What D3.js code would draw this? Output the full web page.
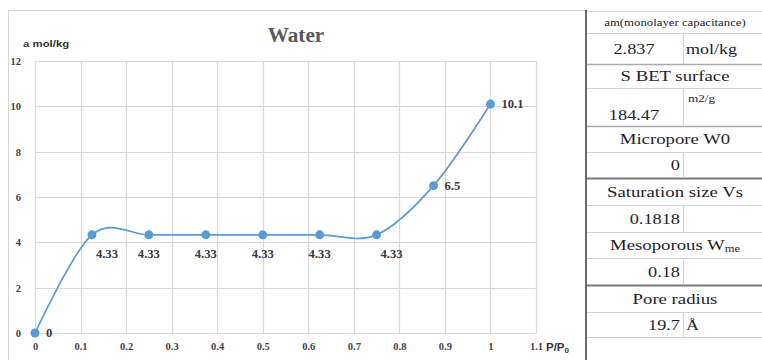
<!DOCTYPE html>
<html>
<head>
<meta charset="utf-8">
<script src="https://cdn.jsdelivr.net/npm/d3@7"></script>
<style>
  html, body { margin: 0; padding: 0; background: #fff; }
  svg { display: block; }
</style>
</head>
<body>
<svg id="chart" width="762" height="360"></svg>
<script>
// Water adsorption isotherm: relative pressure vs. uptake (mol/kg)
const pressure = [0, 0.125, 0.25, 0.375, 0.5, 0.625, 0.75, 0.875, 1];
const uptake   = [0, 4.33, 4.33, 4.33, 4.33, 4.33, 4.33, 6.5, 10.1];
const pointLabels = ["0", "4.33", "4.33", "4.33", "4.33", "4.33", "4.33", "6.5", "10.1"];
const xTicks = [0, 0.1, 0.2, 0.3, 0.4, 0.5, 0.6, 0.7, 0.8, 0.9, 1, 1.1];
const yTicks = [0, 2, 4, 6, 8, 10, 12];

// Side table of derived parameters
const tableLabels = ["am(monolayer capacitance)", "S BET surface", "Micropore W0",
                     "Saturation size Vs", "Mesoporous W", "Pore radius"];
const tableValues = ["2.837", "184.47", "0", "0.1818", "0.18", "19.7", ""];
const tableUnits  = ["mol/kg", "m2/g", "", "", "", "Å", ""];

// ---- layout ----
const svg = d3.select("#chart");
const plot = { left: 35, right: 536, top: 61, bottom: 333 };
const blue = "#5B9BD5";
const serif = "'Liberation Serif', 'Times New Roman', serif";
const sans = "'Liberation Sans', Arial, sans-serif";

const x = d3.scaleLinear().domain([0, 1.1]).range([plot.left, plot.right]);
const y = d3.scaleLinear().domain([0, 12]).range([plot.bottom, plot.top]);

// text drawn with a horizontal stretch
function stretchText(parent, px, py, str, o) {
  const g = parent.append("g")
    .attr("transform", `translate(${px},${py}) scale(${o.sx || 1},1)`);
  const t = g.append("text")
    .attr("x", 0).attr("y", 0)
    .attr("text-anchor", o.anchor || "start")
    .style("font-family", o.family || serif)
    .attr("font-size", o.size || 12)
    .attr("font-weight", o.weight || "normal")
    .attr("fill", o.fill || "#222")
    .text(str);
  return t;
}

// chart frame
svg.append("rect")
  .attr("x", 8.5).attr("y", 10.5).attr("width", 585).attr("height", 360)
  .attr("fill", "#fff").attr("stroke", "#d9d9d9").attr("stroke-width", 1);

// gridlines
const grid = svg.append("g");
grid.selectAll("line.h").data(yTicks).join("line")
  .attr("x1", plot.left).attr("x2", plot.right)
  .attr("y1", d => Math.round(y(d)) + 0.5).attr("y2", d => Math.round(y(d)) + 0.5)
  .attr("stroke", "#d9d9d9").attr("stroke-width", 1.2);
grid.selectAll("line.v").data(xTicks).join("line")
  .attr("y1", plot.top).attr("y2", plot.bottom)
  .attr("x1", d => Math.round(x(d)) + 0.5).attr("x2", d => Math.round(x(d)) + 0.5)
  .attr("stroke", "#d9d9d9").attr("stroke-width", 1.2);

// axes (labels only, lines come from the grid)
const yAxis = svg.append("g")
  .attr("transform", `translate(${plot.left - 14},0)`)
  .call(d3.axisLeft(y).tickValues(yTicks).tickSize(0).tickPadding(0).tickFormat(d3.format("d")));
yAxis.select(".domain").remove();
yAxis.selectAll("text")
  .style("font-family", serif).attr("font-size", 10.5).attr("font-weight", "bold")
  .attr("fill", "#444").attr("dy", "0.34em");

const xAxis = svg.append("g")
  .attr("transform", `translate(0,${plot.bottom + 10})`)
  .call(d3.axisBottom(x).tickValues(xTicks).tickSize(0).tickPadding(0)
    .tickFormat(d => d3.format("~g")(d)));
xAxis.select(".domain").remove();
xAxis.selectAll("text")
  .style("font-family", serif).attr("font-size", 10.5).attr("font-weight", "bold")
  .attr("fill", "#444").attr("dy", "0.71em");

// titles
stretchText(svg, 296, 42, "Water", { anchor: "middle", size: 20, weight: "bold", fill: "#595959", sx: 1.06 });
stretchText(svg, 23, 47, "a mol/kg", { family: sans, size: 9.5, weight: "bold", fill: "#333", sx: 1.2 });
const pp = stretchText(svg, 546, 351, "P/P", { family: sans, size: 10, weight: "bold", fill: "#333", sx: 1.15 });
pp.append("tspan").attr("font-size", 7).attr("dy", 2).text("0");

// smoothed isotherm line
const pts = pressure.map((p, i) => [p, uptake[i]]);
svg.append("path")
  .datum(pts)
  .attr("fill", "none").attr("stroke", blue).attr("stroke-width", 1.7)
  .attr("d", d3.line().x(d => x(d[0])).y(d => y(d[1])).curve(d3.curveCatmullRom.alpha(0)));

svg.selectAll("circle.pt").data(pts).join("circle")
  .attr("cx", d => x(d[0])).attr("cy", d => y(d[1])).attr("r", 4.5)
  .attr("fill", blue);

// data labels
const labelPlace = ["right", "belowRight", "below", "below", "below", "below", "belowRight", "right", "right"];
pts.forEach((d, i) => {
  const px = x(d[0]), py = y(d[1]);
  let lx = px, ly = py, anchor = "middle";
  if (labelPlace[i] === "right") { lx = px + 11; ly = py + 4; anchor = "start"; }
  else if (labelPlace[i] === "belowRight") { lx = px + 15; ly = py + 23; }
  else { ly = py + 23; }
  stretchText(svg, lx, ly, pointLabels[i], { anchor, size: 11.5, weight: "bold", fill: "#3a3a3a", sx: 1.1 });
});

// ---- parameter table ----
const tbl = { left: 586, right: 762, mid: 683 };
const rowH = [22, 31, 24, 38, 26, 26, 27, 27, 26, 27, 27, 25, 25, 25];
const rowY = [11];
rowH.forEach(h => rowY.push(rowY[rowY.length - 1] + h));
const heavy = new Set([6, 10]);
const medium = new Set([2, 4]);

const T = svg.append("g");
T.append("rect").attr("x", tbl.left).attr("y", 10).attr("width", tbl.right - tbl.left).attr("height", 350)
  .attr("fill", "#fff");
rowY.forEach((ry, i) => {
  T.append("line")
    .attr("x1", tbl.left).attr("x2", tbl.right)
    .attr("y1", ry + 0.5).attr("y2", ry + 0.5)
    .attr("stroke", heavy.has(i) ? "#7a7a7a" : medium.has(i) ? "#aaaaaa" : "#d4d4d4")
    .attr("stroke-width", heavy.has(i) ? 2 : medium.has(i) ? 1.6 : 1.2);
});
// column divider in the value rows
rowH.forEach((h, i) => {
  if (i % 2 === 1) {
    T.append("line")
      .attr("x1", tbl.mid + 0.5).attr("x2", tbl.mid + 0.5)
      .attr("y1", rowY[i]).attr("y2", rowY[i + 1])
      .attr("stroke", "#d4d4d4").attr("stroke-width", 1.2);
  }
});
T.append("line")
  .attr("x1", tbl.left).attr("x2", tbl.left).attr("y1", 10).attr("y2", 360)
  .attr("stroke", "#6a6a6a").attr("stroke-width", 2);

const tableFill = "#1e1e2a";
const cx = (tbl.left + tbl.right) / 2 + 1;
tableLabels.forEach((lab, k) => {
  const r = k * 2;
  const cy = (rowY[r] + rowY[r + 1]) / 2;
  if (k === 0) {
    stretchText(T, cx, cy + 3.5, lab, { anchor: "middle", size: 10, fill: tableFill, sx: 1.28 });
  } else {
    const t = stretchText(T, cx, cy + 5, lab, { anchor: "middle", size: 15, fill: tableFill, sx: 1.25 });
    if (k === 4) t.append("tspan").attr("font-size", 10).attr("dy", 2).text("me");
  }
});

const valueAlign = ["center", "center", "right", "right", "right", "right", "right"];
tableValues.forEach((v, k) => {
  const r = k * 2 + 1;
  const cy = (rowY[r] + rowY[r + 1]) / 2;
  const base = k === 1 ? rowY[r + 1] - 6 : cy + 5;
  if (valueAlign[k] === "center") {
    stretchText(T, 634, base, v, { anchor: "middle", size: 15, fill: tableFill, sx: 1.22 });
  } else {
    stretchText(T, tbl.mid - 3, base, v, { anchor: "end", size: 15, fill: tableFill, sx: 1.22 });
  }
  const u = tableUnits[k];
  if (u) {
    if (k === 1) stretchText(T, tbl.mid + 5, rowY[r] + 14, u, { size: 11, fill: tableFill, sx: 1.2 });
    else stretchText(T, tbl.mid + 3, cy + 5, u, { size: 15, fill: tableFill, sx: 1.2 });
  }
});
</script>
</body>
</html>
